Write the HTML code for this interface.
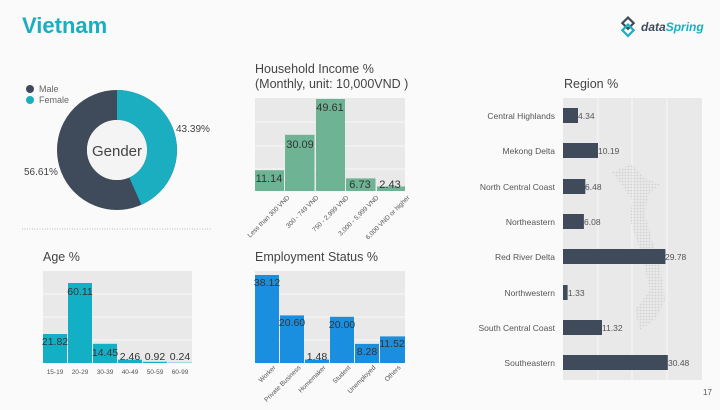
<!DOCTYPE html>
<html><head><meta charset="utf-8"><style>
body{margin:0;width:720px;height:405px;background:#fafafa;overflow:hidden;font-family:"Liberation Sans",sans-serif}
</style></head><body>
<svg width="720" height="405" viewBox="0 0 720 405" xmlns="http://www.w3.org/2000/svg" font-family="Liberation Sans, sans-serif">
<defs><pattern id="dots" width="3" height="3" patternUnits="userSpaceOnUse"><circle cx="1.5" cy="1.5" r="0.9" fill="#d0d0d0"/></pattern></defs>
<rect width="720" height="405" fill="#fafafa"/>
<text x="22" y="33" font-size="22" font-weight="bold" fill="#1aaec0">Vietnam</text>
<g transform="translate(628,26)"><rect x="-6" y="-6" width="8" height="8" transform="rotate(45)" fill="none" stroke="#3f4a5a" stroke-width="2.2"/><rect x="-1" y="-1" width="8" height="8" transform="rotate(45)" fill="none" stroke="#1aaec0" stroke-width="2.2"/></g>
<text x="641" y="31" font-size="12" font-weight="bold" font-style="italic" fill="#3f4a5a">data<tspan fill="#1aaec0">Spring</tspan></text>
<circle cx="30" cy="89" r="4" fill="#3f4a5a"/><text x="39" y="92" font-size="9" fill="#666">Male</text>
<circle cx="30" cy="100" r="4" fill="#1aaec0"/><text x="39" y="103" font-size="9" fill="#666">Female</text>
<circle cx="117" cy="150" r="45" fill="none" stroke="#3f4a5a" stroke-width="30"/>
<path d="M117 90 A60 60 0 0 1 141.4 204.8 L129.2 177.4 A30 30 0 0 0 117 120 Z" fill="#1aaec0"/>
<circle cx="117" cy="150" r="30" fill="#f4f4f4"/>
<text x="117" y="156" font-size="15" text-anchor="middle" fill="#444">Gender</text>
<text x="176" y="132" font-size="10" fill="#444">43.39%</text>
<text x="24" y="175" font-size="10" fill="#444">56.61%</text>
<line x1="22" y1="229" x2="212" y2="229" stroke="#bbb" stroke-dasharray="1,1.5"/>
<text x="255" y="73" font-size="12.5" fill="#444">Household Income %</text>
<text x="255" y="88" font-size="12.5" fill="#444">(Monthly, unit: 10,000VND )</text>
<rect x="255" y="98" width="150" height="93" fill="#e9e9e9"/>
<g stroke="#f7f7f7"><line x1="255" y1="122" x2="405" y2="122"/><line x1="255" y1="146" x2="405" y2="146"/><line x1="255" y1="169" x2="405" y2="169"/></g>
<g fill="#6db394">
<rect x="255" y="170.2" width="29" height="20.8"/><rect x="285" y="134.8" width="29.5" height="56.2"/><rect x="316" y="99" width="29" height="92"/><rect x="346" y="178.4" width="29.5" height="12.6"/><rect x="377" y="186.5" width="28" height="4.5"/></g>
<g font-size="11" fill="#333" text-anchor="middle"><text x="269" y="182">11.14</text><text x="300" y="148">30.09</text><text x="330" y="111">49.61</text><text x="360" y="188">6.73</text><text x="390" y="188">2.43</text></g>
<g font-size="6.5" fill="#555" text-anchor="end">
<text transform="translate(290,198) rotate(-45)">Less than 300 VND</text>
<text transform="translate(319,198) rotate(-45)">300 - 749 VND</text>
<text transform="translate(349,198) rotate(-45)">750 - 2,999 VND</text>
<text transform="translate(379,198) rotate(-45)">3,000 - 5,999 VND</text>
<text transform="translate(410,198) rotate(-45)">6,000 VND or higher</text></g>
<text x="564" y="88" font-size="12.5" fill="#444">Region %</text>
<rect x="563" y="98" width="139" height="282" fill="#e9e9e9"/>
<g stroke="#f7f7f7"><line x1="598" y1="98" x2="598" y2="380"/><line x1="632" y1="98" x2="632" y2="380"/><line x1="667" y1="98" x2="667" y2="380"/></g>
<path d="M612 172 L632 164 L645 178 L660 184 L648 195 L645 215 L655 250 L660 265 L665 300 L655 320 L640 330 L635 310 L650 290 L640 250 L630 220 L632 200 Z" fill="url(#dots)"/>
<g fill="#3f4a5a">
<rect x="563" y="108" width="15" height="15"/><rect x="563" y="143" width="35" height="15"/><rect x="563" y="179" width="22.3" height="15"/><rect x="563" y="214" width="20.9" height="15"/><rect x="563" y="249" width="102.4" height="15"/><rect x="563" y="285" width="4.6" height="15"/><rect x="563" y="320" width="39" height="15"/><rect x="563" y="355" width="104.8" height="15"/></g>
<g font-size="8.5" fill="#555" text-anchor="end">
<text x="555" y="119">Central Highlands</text><text x="555" y="154">Mekong Delta</text><text x="555" y="190">North Central Coast</text><text x="555" y="225">Northeastern</text><text x="555" y="260">Red River Delta</text><text x="555" y="296">Northwestern</text><text x="555" y="331">South Central Coast</text><text x="555" y="366">Southeastern</text></g>
<g font-size="8.5" fill="#555">
<text x="578" y="119">4.34</text><text x="598" y="154">10.19</text><text x="585" y="190">6.48</text><text x="584" y="225">6.08</text><text x="665" y="260">29.78</text><text x="568" y="296">1.33</text><text x="602" y="331">11.32</text><text x="668" y="366">30.48</text></g>
<text x="43" y="261" font-size="12.5" fill="#444">Age %</text>
<rect x="43" y="271" width="149" height="92" fill="#e9e9e9"/>
<g stroke="#f7f7f7"><line x1="43" y1="294" x2="192" y2="294"/><line x1="43" y1="317" x2="192" y2="317"/><line x1="43" y1="340" x2="192" y2="340"/></g>
<g fill="#13b0c5">
<rect x="43" y="334" width="24" height="29"/><rect x="68" y="283" width="24" height="80"/><rect x="93" y="343.8" width="24" height="19.2"/><rect x="118" y="359.7" width="24" height="3.3"/><rect x="143" y="361.8" width="24" height="1.2"/><rect x="168" y="362.7" width="24" height="0.3"/></g>
<g font-size="10.5" fill="#333" text-anchor="middle"><text x="55" y="345">21.82</text><text x="80" y="295">60.11</text><text x="105" y="356">14.45</text><text x="130" y="360">2.46</text><text x="155" y="360">0.92</text><text x="180" y="360">0.24</text></g>
<g font-size="6.5" fill="#555" text-anchor="middle"><text x="55" y="374">15-19</text><text x="80" y="374">20-29</text><text x="105" y="374">30-39</text><text x="130" y="374">40-49</text><text x="155" y="374">50-59</text><text x="180" y="374">60-99</text></g>
<text x="255" y="261" font-size="12.5" fill="#444">Employment Status %</text>
<rect x="255" y="271" width="150" height="92" fill="#e9e9e9"/>
<g stroke="#f7f7f7"><line x1="255" y1="294" x2="405" y2="294"/><line x1="255" y1="317" x2="405" y2="317"/><line x1="255" y1="340" x2="405" y2="340"/></g>
<g fill="#1a8fe0">
<rect x="255" y="275" width="24" height="88"/><rect x="280" y="315.4" width="24" height="47.6"/><rect x="305" y="359.6" width="24" height="3.4"/><rect x="330" y="316.8" width="24" height="46.2"/><rect x="355" y="343.9" width="24" height="19.1"/><rect x="380" y="336.4" width="25" height="26.6"/></g>
<g font-size="10.5" fill="#333" text-anchor="middle"><text x="267" y="286">38.12</text><text x="292" y="326">20.60</text><text x="317" y="360">1.48</text><text x="342" y="328">20.00</text><text x="367" y="355">8.28</text><text x="392" y="347">11.52</text></g>
<g font-size="6.5" fill="#555" text-anchor="end">
<text transform="translate(276,368) rotate(-45)">Worker</text>
<text transform="translate(301,368) rotate(-45)">Private Business</text>
<text transform="translate(326,368) rotate(-45)">Homemaker</text>
<text transform="translate(351,368) rotate(-45)">Student</text>
<text transform="translate(376,368) rotate(-45)">Unemployed</text>
<text transform="translate(401,368) rotate(-45)">Others</text></g>
<text x="703" y="395" font-size="8" fill="#555">17</text>
</svg>
</body></html>
